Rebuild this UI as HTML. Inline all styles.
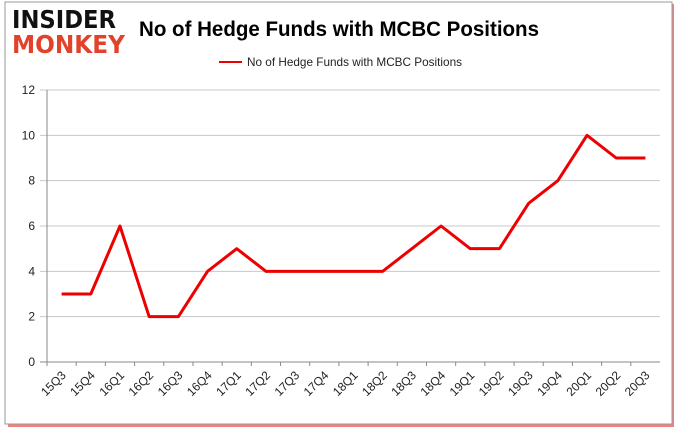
<!DOCTYPE html>
<html><head><meta charset="utf-8"><style>
body{margin:0;background:#fff;}
svg{display:block;font-family:"Liberation Sans",sans-serif;}
</style></head><body>
<svg id="c" width="680" height="433">
<rect x="8" y="4" width="666" height="423" fill="#e00" opacity="0.5"/>
<rect x="5" y="2" width="667" height="422" fill="#fff" stroke="#999" stroke-width="1"/>
<text x="12" y="28" font-size="25" font-weight="bold" fill="#111" font-family="'DejaVu Sans',sans-serif" textLength="104" lengthAdjust="spacingAndGlyphs">INSIDER</text>
<text x="12" y="53" font-size="25" font-weight="bold" fill="#e2422b" font-family="'DejaVu Sans',sans-serif" textLength="113" lengthAdjust="spacingAndGlyphs">MONKEY</text>
<text x="139" y="36" font-size="21" font-weight="bold" fill="#000" textLength="400" lengthAdjust="spacingAndGlyphs">No of Hedge Funds with MCBC Positions</text>
<line x1="219" y1="62" x2="242" y2="62" stroke="#e00" stroke-width="2"/>
<text x="247" y="66" font-size="12" fill="#222" textLength="215" lengthAdjust="spacingAndGlyphs">No of Hedge Funds with MCBC Positions</text>
<g id="g"></g>
</svg>
<script>
const categories=["15Q3","15Q4","16Q1","16Q2","16Q3","16Q4","17Q1","17Q2","17Q3","17Q4","18Q1","18Q2","18Q3","18Q4","19Q1","19Q2","19Q3","19Q4","20Q1","20Q2","20Q3"];
const values=[3,3,6,2,2,4,5,4,4,4,4,4,5,6,5,5,7,8,10,9,9];
const yTicks=[0,2,4,6,8,10,12];
const L=47,R=660,T=90,B=362,yMax=12;
const ns="http://www.w3.org/2000/svg",g=document.getElementById('g');
const step=(R-L)/categories.length;
const x=i=>L+step*(i+0.5), y=v=>B-(v/yMax)*(B-T);
function mk(t,a){const e=document.createElementNS(ns,t);for(const k in a)e.setAttribute(k,a[k]);g.appendChild(e);return e;}
yTicks.forEach(v=>{
 const l=mk('line',{x1:L-7,x2:R,y1:y(v),y2:y(v),stroke:v===0?'#888':'#c8c8c8','stroke-width':1});
 
 
 const t=mk('text',{x:L-12,y:y(v)+4,'font-size':12,'text-anchor':'end',fill:'#222'});
 t.textContent=v;
 
 
});
const ax=mk('line',{x1:L,x2:L,y1:T,y2:B,stroke:'#888'});


categories.forEach((c,i)=>{
 const tx=L+step*i;
 const tk=mk('line',{x1:tx,x2:tx,y1:B,y2:B+4,stroke:'#888'});
 
 
 const t=mk('text',{x:x(i)+5,y:B+14,'font-size':12,'text-anchor':'end',fill:'#222',transform:`rotate(-45 ${x(i)+5} ${B+14})`});
 t.textContent=c;
 
 
});
const p=mk('polyline',{points:values.map((v,i)=>x(i)+','+y(v)).join(' '),fill:'none',stroke:'#e00','stroke-width':3,'stroke-linejoin':'round'});


</script>
</body></html>
